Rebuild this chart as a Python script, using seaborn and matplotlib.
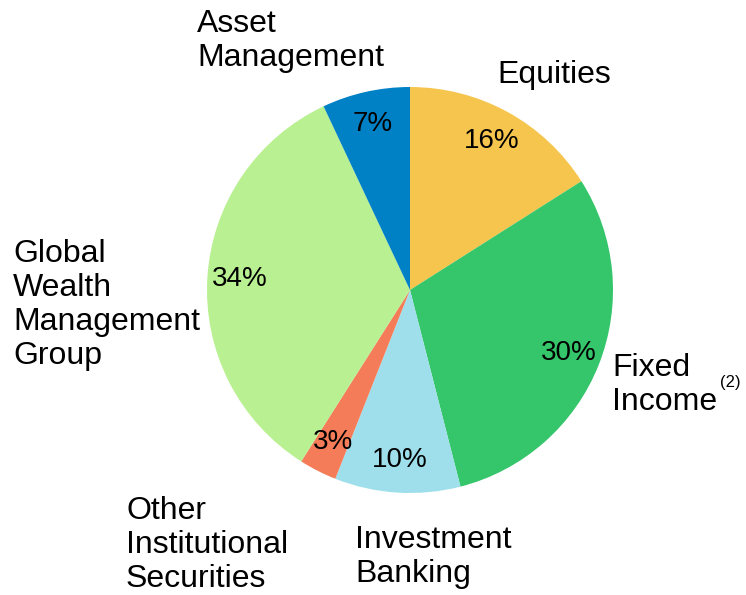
import matplotlib
matplotlib.use("Agg")
import matplotlib.pyplot as plt
import seaborn as sns

# -----------------------------
# Data
# -----------------------------
segments = ["Equities", "Fixed Income", "Investment Banking",
            "Other Institutional Securities", "Global Wealth Management Group",
            "Asset Management"]
shares = [16, 30, 10, 3, 34, 7]
colors = ["#F5C54E", "#35C56A", "#9FDFEC", "#F47C58", "#B9F092", "#0081C6"]
label_texts = ["Equities", "Fixed\nIncome", "Investment\nBanking",
               "Other\nInstitutional\nSecurities", "Global\nWealth\nManagement\nGroup",
               "Asset\nManagement"]

sns.set_theme(style="white")
plt.rcParams['font.family'] = ['Liberation Sans', 'DejaVu Sans']

W, H = 746, 595
fig = plt.figure(figsize=(W / 100, H / 100), dpi=100)
ax = fig.add_axes([0, 0, 1, 1])

# y axis runs downward (pixel-like), so start at -90 to begin at the top
wedges, texts, autotexts = ax.pie(
    shares, colors=colors, startangle=-90, counterclock=True,
    center=(410, 290), radius=203, frame=True,
    autopct=lambda p: f"{p:.0f}%", pctdistance=0.84,
    wedgeprops=dict(linewidth=0), textprops=dict(fontsize=20, color='black'))
ax.set_xlim(0, W)
ax.set_ylim(H, 0)
ax.set_aspect('equal')
ax.axis('off')

# category labels
label_pos = [(497, 75), (612, 385), (355, 557), (126, 545), (13, 305), (197, 41)]
for txt, (x, y) in zip(label_texts, label_pos):
    ax.text(x, y, txt, fontsize=23, ha='left', va='center', linespacing=1.18,
            color='black')
ax.text(720, 383, "(2)", fontsize=12, ha='left', va='center', color='black')

plt.savefig("out.png", dpi=100)
